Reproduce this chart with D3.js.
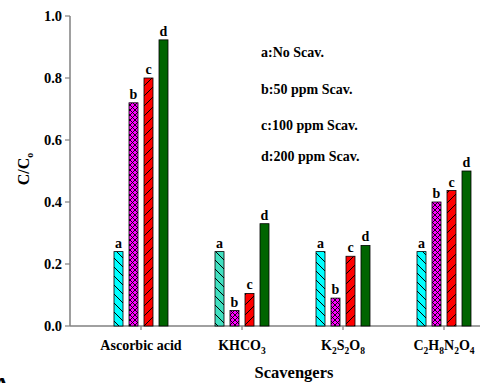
<!DOCTYPE html>
<html>
<head>
<script src="https://cdn.jsdelivr.net/npm/d3@7"></script>
<style>
  body { margin: 0; background: #fff; }
  svg text { font-family: "Liberation Serif", "DejaVu Serif", serif; font-weight: bold; }
</style>
</head>
<body>
<svg id="chart" width="480" height="383"></svg>
<script>
var categories = ["Ascorbic acid", "KHCO3", "K2S2O8", "C2H8N2O4"];
var series = ["a", "b", "c", "d"];
var valuesA = [0.24, 0.24, 0.24, 0.24];
var valuesB = [0.72, 0.05, 0.09, 0.40];
var valuesC = [0.80, 0.105, 0.225, 0.437];
var valuesD = [0.923, 0.33, 0.26, 0.50];
var yTicks = [0, 0.2, 0.4, 0.6, 0.8, 1.0];
var legendLabels = ["a:No Scav.", "b:50 ppm Scav.", "c:100 ppm Scav.", "d:200 ppm Scav."];

var allValues = [valuesA, valuesB, valuesC, valuesD];

function drawChart() {
  var svg = d3.select("#chart");
  var plotLeft = 70, plotTop = 16, plotBottom = 326, plotRight = 480;

  var y = d3.scaleLinear().domain([0, 1]).range([plotBottom, plotTop]);
  var x = d3.scalePoint().domain(categories).range([141, 444]);
  var offset = d3.scalePoint().domain(series).range([-22.5, 22.5]);
  var barW = 9;

  // hatch patterns
  var defs = svg.append("defs");
  function hatch(id, fill, size, paths, sw) {
    var p = defs.append("pattern").attr("id", id).attr("patternUnits", "userSpaceOnUse")
      .attr("width", size).attr("height", size);
    p.append("rect").attr("width", size).attr("height", size).attr("fill", fill);
    paths.forEach(function (d) {
      p.append("path").attr("d", d).attr("stroke", "#000").attr("stroke-width", sw).attr("fill", "none");
    });
  }
  hatch("pa", "#00ffff", 9, ["M0,0 L9,9", "M-9,0 L0,9", "M0,-9 L9,0"], 1);
  hatch("pa2", "#40e0c0", 9, ["M0,0 L9,9", "M-9,0 L0,9", "M0,-9 L9,0"], 1);
  hatch("pb", "#ff00ff", 5, ["M0,0 L5,5", "M5,0 L0,5"], 0.9);
  hatch("pc", "#ff0000", 10, ["M0,10 L10,0", "M-10,10 L0,0", "M10,10 L20,0"], 1);

  function fillFor(s, i) {
    if (s === "a") return i === 1 ? "url(#pa2)" : "url(#pa)";
    if (s === "b") return "url(#pb)";
    if (s === "c") return "url(#pc)";
    return "#006400";
  }

  // axes
  var axisColor = "#808080";
  svg.append("line").attr("x1", plotLeft).attr("x2", plotRight).attr("y1", plotBottom).attr("y2", plotBottom)
    .attr("stroke", axisColor).attr("stroke-width", 1.5);
  svg.append("line").attr("x1", plotLeft).attr("x2", plotLeft).attr("y1", plotTop).attr("y2", plotBottom)
    .attr("stroke", axisColor).attr("stroke-width", 1.5);

  svg.selectAll(".ytick").data(yTicks).enter().append("line")
    .attr("x1", plotLeft - 5).attr("x2", plotLeft).attr("y1", function (d) { return y(d); })
    .attr("y2", function (d) { return y(d); }).attr("stroke", axisColor).attr("stroke-width", 1.2);
  svg.selectAll(".ylab").data(yTicks).enter().append("text")
    .attr("x", plotLeft - 8).attr("y", function (d) { return y(d) + 5; })
    .attr("text-anchor", "end").attr("font-size", 14.5)
    .text(function (d) { return d.toFixed(1); });

  svg.selectAll(".xtick").data(categories).enter().append("line")
    .attr("x1", function (d) { return x(d); }).attr("x2", function (d) { return x(d); })
    .attr("y1", plotBottom).attr("y2", plotBottom + 4).attr("stroke", axisColor).attr("stroke-width", 1.2);

  // bars
  categories.forEach(function (cat, i) {
    series.forEach(function (s, j) {
      var v = allValues[j][i];
      var cx = x(cat) + offset(s);
      svg.append("rect")
        .attr("x", cx - barW / 2).attr("y", y(v))
        .attr("width", barW).attr("height", plotBottom - y(v))
        .attr("fill", fillFor(s, i)).attr("stroke", "#000").attr("stroke-width", 0.8);
      svg.append("text").attr("x", cx).attr("y", y(v) - 4)
        .attr("text-anchor", "middle").attr("font-size", 14).text(s);
    });
  });

  // category labels with subscripts
  var catLabels = [
    [["Ascorbic acid", 0]],
    [["KHCO", 0], ["3", 1]],
    [["K", 0], ["2", 1], ["S", 0], ["2", 1], ["O", 0], ["8", 1]],
    [["C", 0], ["2", 1], ["H", 0], ["8", 1], ["N", 0], ["2", 1], ["O", 0], ["4", 1]]
  ];
  categories.forEach(function (cat, i) {
    var t = svg.append("text").attr("x", x(cat)).attr("y", 350)
      .attr("text-anchor", "middle").attr("font-size", 14);
    catLabels[i].forEach(function (p, k) {
      var ts = t.append("tspan").text(p[0]);
      if (p[1]) ts.attr("font-size", 9.5).attr("dy", 4);
      else if (k > 0) ts.attr("dy", -4);
    });
  });

  // legend text
  svg.selectAll(".leg").data(legendLabels).enter().append("text")
    .attr("x", 261).attr("font-size", 14)
    .attr("y", function (d, i) { return [57, 94, 130, 161][i]; })
    .text(function (d) { return d; });

  // axis titles
  var yt = svg.append("text").attr("transform", "translate(29,169) rotate(-90)")
    .attr("text-anchor", "middle").attr("font-size", 16);
  yt.append("tspan").text("C/C");
  yt.append("tspan").attr("font-size", 10).attr("dy", 4).text("o");
  svg.append("text").attr("x", 294).attr("y", 378).attr("text-anchor", "middle")
    .attr("font-size", 16.5).text("Scavengers");

  svg.append("text").attr("x", -6).attr("y", 392).attr("font-size", 22).text("A");
}

drawChart();
</script>
</body>
</html>
